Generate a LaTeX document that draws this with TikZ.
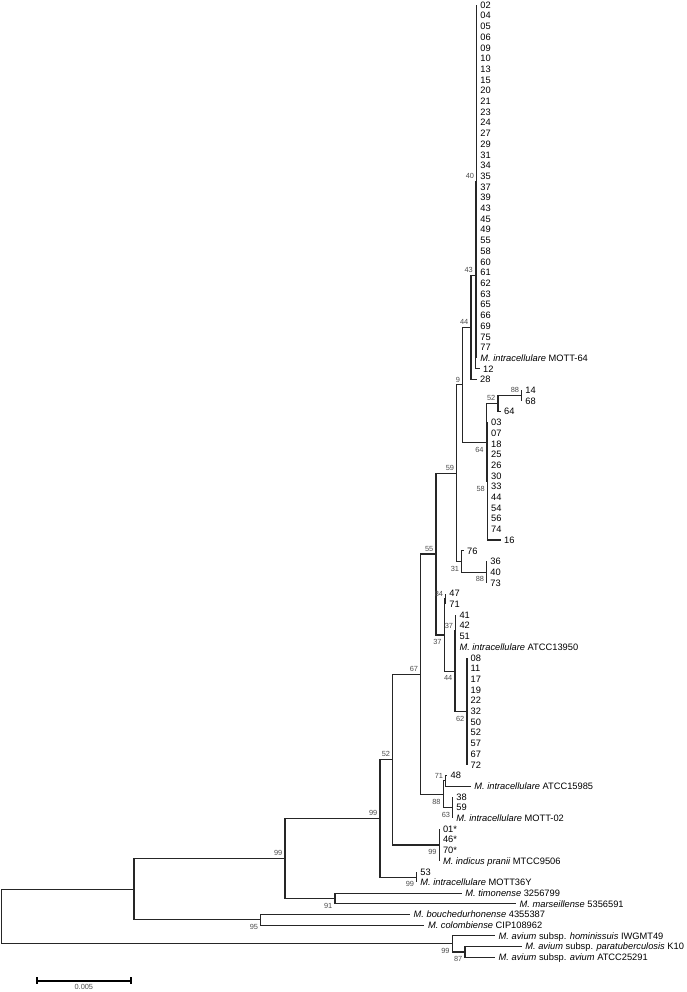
\documentclass[tikz,border=0pt]{standalone}
\usepackage{fontspec}
\setmainfont{Liberation Sans}
\usetikzlibrary{calc}
\tikzset{
  branch/.style={line width=1.1pt, color=black!85},
  taxon/.style={anchor=base west, inner sep=0pt, xshift=3.5pt, yshift=-3.3pt, font=\fontsize{9.3}{10}\selectfont},
  boot/.style={inner sep=0pt, font=\fontsize{7.4}{8}\selectfont, text=black!70},
  bup/.style={boot, anchor=south east, xshift=-2.5pt, yshift=2.5pt},
  bdn/.style={boot, anchor=north east, xshift=-2.5pt, yshift=-4.5pt},
}
% one tip: name, parent, tip x, row, text
\newcommand{\tip}[5]{%
  \coordinate (#1) at (#3,#4);
  \draw[branch] (#2) |- (#1);
  \node[taxon] (#1lab) at (#1) {#5};}
\begin{document}
\begin{tikzpicture}[x=1pt,y=-10.7pt]
\useasboundingbox (0,-0.4673) rectangle (687,92.243);

% inner nodes (x in px, y in rows)
\coordinate (root) at (1.7,85.19);
\coordinate (nmid) at (134,82.63);
\coordinate (n99f) at (452.3,87.75);
\coordinate (n87) at (465,88.5);
\coordinate (n99e) at (285,79.76);
\coordinate (n95) at (260.7,85.5);
\coordinate (n91) at (335,83.5);
\coordinate (n99a) at (380,76.01);
\coordinate (n99d) at (416.7,81.5);
\coordinate (n52b) at (392.7,70.52);
\coordinate (n99c) at (439.3,78.5);
\coordinate (n67) at (420.7,62.53);
\coordinate (n88c) at (443.3,73.75);
\coordinate (n71) at (445.7,72.5);
\coordinate (n63) at (452.7,75);
\coordinate (n55) at (436,51.3125);
\coordinate (n37) at (444.3,58.875);
\coordinate (n84) at (445.7,55.5);
\coordinate (n44b) at (455,62.25);
\coordinate (n37b) at (455.8,58.5);
\coordinate (n62) at (467,66);
\coordinate (n59) at (456.7,43.75);
\coordinate (n31) at (461.7,52);
\coordinate (n88b) at (486.7,53);
\coordinate (n9) at (462.7,35.5);
\coordinate (n64) at (486.3,40.875);
\coordinate (n58) at (487.5,44.5);
\coordinate (n52a) at (498,37.25);
\coordinate (n88a) at (521.7,36.5);
\coordinate (n44) at (471,30.125);
\coordinate (n43) at (475.5,25.25);
\coordinate (n40) at (476.7,16.5);

% inner branches
\foreach \p/\c in {root/nmid,root/n99f,nmid/n99e,nmid/n95,n99e/n99a,n99e/n91,
    n99a/n52b,n99a/n99d,n52b/n67,n52b/n99c,n67/n55,n67/n88c,n55/n59,n55/n37,
    n59/n9,n59/n31,n9/n44,n9/n64,n44/n43,n43/n40,n64/n52a,n64/n58,n52a/n88a,
    n31/n88b,n37/n84,n37/n44b,n44b/n37b,n44b/n62,n88c/n71,n88c/n63,n99f/n87}
  \draw[branch] (\p) |- (\c);

% polytomies
\foreach \lab [count=\i from 0] in {02,04,05,06,09,10,13,15,20,21,23,24,27,29,31,34,35,37,39,43,45,49,55,58,60,61,62,63,65,66,69,75,77,{\textit{M. intracellulare} MOTT-64}}
  {\tip{a\i}{n40}{476.7}{\i}{\lab}}
\foreach \lab [count=\i from 39] in {03,07,18,25,26,30,33,44,54,56,74}
  {\tip{b\i}{n58}{487.5}{\i}{\lab}}
\foreach \lab [count=\i from 52] in {36,40,73}
  {\tip{c\i}{n88b}{486.7}{\i}{\lab}}
\foreach \lab [count=\i from 57] in {41,42,51,{\textit{M. intracellulare} ATCC13950}}
  {\tip{d\i}{n37b}{455.8}{\i}{\lab}}
\foreach \lab [count=\i from 61] in {08,11,17,19,22,32,50,52,57,67,72}
  {\tip{e\i}{n62}{467}{\i}{\lab}}
\foreach \lab [count=\i from 74] in {38,59,{\textit{M. intracellulare} MOTT-02}}
  {\tip{f\i}{n63}{452.7}{\i}{\lab}}
\foreach \lab [count=\i from 77] in {01*,46*,70*,{\textit{M. indicus pranii} MTCC9506}}
  {\tip{g\i}{n99c}{439.3}{\i}{\lab}}

% single tips
\tip{t12}{n43}{479.5}{34}{12}
\tip{t28}{n44}{476.5}{35}{28}
\tip{t14}{n88a}{521.7}{36}{14}
\tip{t68}{n88a}{521.7}{37}{68}
\tip{t64}{n52a}{500.5}{38}{64}
\tip{t16}{n58}{500.5}{50}{16}
\tip{t76}{n31}{463.5}{51}{76}
\tip{t47}{n84}{445.7}{55}{47}
\tip{t71}{n84}{445.7}{56}{71}
\tip{t48}{n71}{447}{72}{48}
\tip{tatcc15985}{n71}{470.7}{73}{\textit{M. intracellulare} ATCC15985}
\tip{t53}{n99d}{416.7}{81}{53}
\tip{tmott36y}{n99d}{416.7}{82}{\textit{M. intracellulare} MOTT36Y}
\tip{ttimo}{n91}{461.7}{83}{\textit{M. timonense} 3256799}
\tip{tmars}{n91}{516}{84}{\textit{M. marseillense} 5356591}
\tip{tbouc}{n95}{410}{85}{\textit{M. bouchedurhonense} 4355387}
\tip{tcolo}{n95}{424.3}{86}{\textit{M. colombiense} CIP108962}
\tip{thomi}{n99f}{495}{87}{\textit{M. avium} subsp. \textit{hominissuis} IWGMT49}
\tip{tpara}{n87}{521.7}{88}{\textit{M. avium} subsp. \textit{paratuberculosis} K10}
\tip{taviu}{n87}{495}{89}{\textit{M. avium} subsp. \textit{avium} ATCC25291}

% bootstrap values
\foreach \n/\v in {n40/40,n43/43,n44/44,n9/9,n52a/52,n88a/88,n59/59,n55/55,
    n84/84,n37b/37,n67/67,n71/71,n52b/52,n99a/99,n99e/99}
  \node[bup] (bs\n) at (\n) {\v};
\foreach \n/\v in {n64/64,n58/58,n31/31,n88b/88,n37/37,n44b/44,n62/62,n88c/88,
    n63/63,n99c/99,n99d/99,n91/91,n95/95,n99f/99,n87/87}
  \node[bdn] (bs\n) at (\n) {\v};

% scale bar
\coordinate (sbl) at (36.7,91.187);
\coordinate (sbr) at (131,91.187);
\draw[line width=1.6pt] (sbl) -- (sbr);
\draw[line width=1.6pt] ([yshift=3.5pt]sbl) -- ([yshift=-3.5pt]sbl);
\draw[line width=1.6pt] ([yshift=3.5pt]sbr) -- ([yshift=-3.5pt]sbr);
\node[boot, anchor=north, yshift=-3.5pt] (sblab) at ($(sbl)!0.5!(sbr)$) {0.005};
\end{tikzpicture}
\end{document}
